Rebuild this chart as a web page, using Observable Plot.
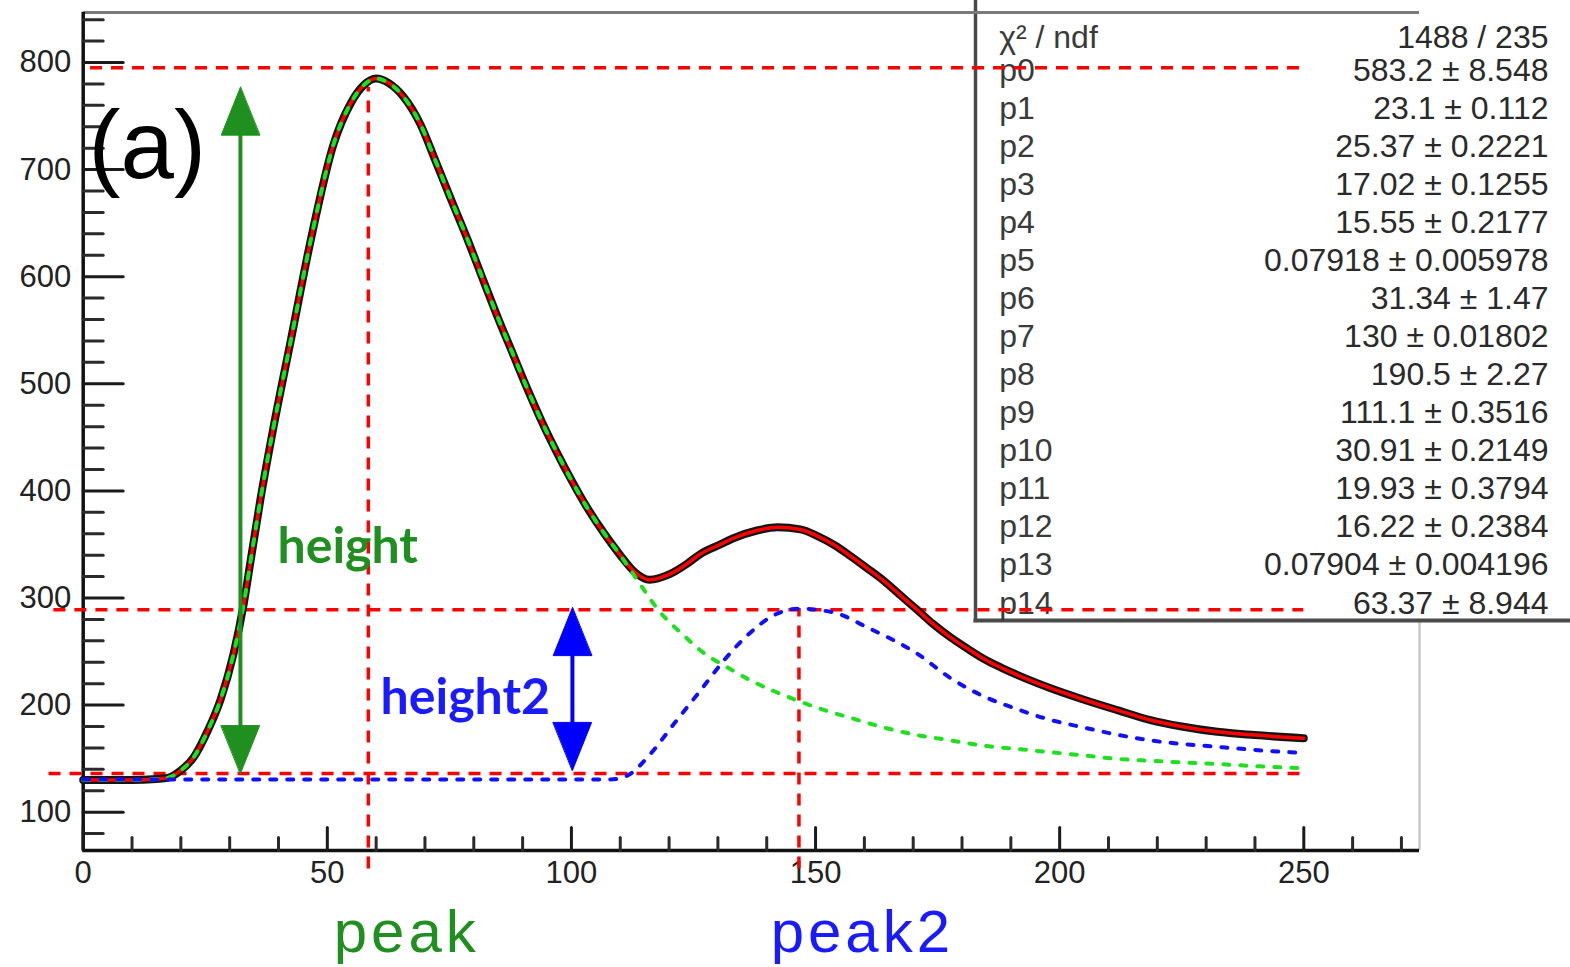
<!DOCTYPE html>
<html><head><meta charset="utf-8">
<script src="https://cdn.jsdelivr.net/npm/d3@7"></script>
<script src="https://cdn.jsdelivr.net/npm/@observablehq/plot@0.6"></script>
<style>html,body{margin:0;padding:0;background:#fff;} #chart{width:1570px;height:967px;overflow:hidden}</style>
</head><body><div id="chart"></div>
<script>
// ---------- data ----------
const totalX = [0,5,10,15,17.3,20,22.6,25.5,28.2,30.8,32.9,34.3,36.3,39,42.5,46.6,51.3,54.8,57.5,60,62.5,65.6,69.1,72,75,78.7,82,85,88,91,94,97,100,103,106.6,110,113,116,120,123.7,126.4,130.5,133.3,138,142.2,146.9,150.3,154,157.2,160.5,164,167.5,170.8,174,177.7,181,184.5,188,191.4,198,205,212,218.6,225,232.3,240,250];
const totalY = [130,130,130,131,132,139,151,176,206,248,295,335,392,460,540,634,724,762,779,785,781,768,742,710,676,635,596,561,528,495,464,436,410,386,361,340,324,317,322,332,341,350,356,363,366,364,358,349,339,328,316,302,289,276,263,253,243,235,228,216,205,195,186,180,175,172,169];

const greenX = [0,5,10,15,17.3,20,22.6,25.5,28.2,30.8,32.9,34.3,36.3,39,42.5,46.6,51.3,54.8,57.5,60,62.5,65.6,69.1,72,75,78.7,82,85,88,91,94,97,100,103,106.6,110,113,118.3,123,127,132,136.7,142,147,152,157.2,164,170.8,177.7,184.4,191.4,198,204.9,211,218.6,225,232.3,240,250];
const greenY = [130,130,130,131,132,139,151,176,206,248,295,335,392,460,540,634,724,762,779,785,781,768,742,710,676,635,596,561,528,495,464,436,410,386,361,340,320,286,265,249,235,223,212,203,195,188,179,172,167,162,159,156,153,150,148,146.5,145,143,141];

const blueX = [0,50,108,111.4,116.2,121,126.4,131.2,136,142.2,146.5,153.7,160.6,170.8,177.7,184.5,191.4,196.7,204.9,218.6,232.3,247.3,250];
const blueY = [130.5,130.5,130.5,134,154.5,182.5,213.5,241.5,265,285.5,290,286.5,272.5,248,225,208,196,188,179,167,161,156,155.5];

// reference lines (values)
const hRuleY  = [136, 289, 795];
const hRuleX1 = [-7, -6, 1.5];
const hRuleX2 = [250, 250, 250];
const vRuleX  = [58.4, 146.6];
const vRuleY1 = [47, 47];
const vRuleY2 = [777, 290];

// arrows (height, height2)
const arrowX    = [32.2, 100.2];
const arrowLow  = [136, 139];
const arrowHigh = [777, 291];
const arrowColor = ["#1f8f1f", "#0000ff"];

// axes
const majorY = [100,200,300,400,500,600,700,800];
const minorY = [80,120,140,160,180,220,240,260,280,320,340,360,380,420,440,460,480,520,540,560,580,620,640,660,680,720,740,760,780,820,840];
const majorX = [0,50,100,150,200,250];
const minorX = [10,20,30,40,60,70,80,90,110,120,130,140,160,170,180,190,210,220,230,240,260,270];
const xDomain = [0, 273.7];
const yDomain = [64.2, 846.7];

// stats box
const statChiLabel = "χ² / ndf";
const statChiValue = "1488 / 235";
const statLabels = ["p0","p1","p2","p3","p4","p5","p6","p7","p8","p9","p10","p11","p12","p13","p14"];
const statValues = ["583.2 ± 8.548","23.1 ± 0.112","25.37 ± 0.2221","17.02 ± 0.1255","15.55 ± 0.2177","0.07918 ± 0.005978","31.34 ± 1.47","130 ± 0.01802","190.5 ± 2.27","111.1 ± 0.3516","30.91 ± 0.2149","19.93 ± 0.3794","16.22 ± 0.2384","0.07904 ± 0.004196","63.37 ± 8.944"];

// ---------- build ----------
const zip = (xs, ys) => xs.map((x, i) => ({x, y: ys[i]}));
const total = zip(totalX, totalY);
const green = zip(greenX, greenY);
const blue = zip(blueX, blueY);
const hRules = hRuleY.map((y, i) => ({y, x1: hRuleX1[i], x2: hRuleX2[i]}));
const vRules = vRuleX.map((x, i) => ({x, y1: vRuleY1[i], y2: vRuleY2[i]}));

const tickShape = {draw(ctx, l) { ctx.moveTo(0, 0); ctx.lineTo(0, -l); }};
const headShape = {draw(ctx, l) { const w = l * 0.4; ctx.moveTo(0, 0); ctx.lineTo(-w, l); ctx.lineTo(w, l); ctx.closePath(); }};

const SANS = "Liberation Sans, Arial, Helvetica, sans-serif";
const boxInset = {insetLeft: 892.3, insetBottom: 230, insetRight: -170, insetTop: -20};

const arrowMarks = arrowX.flatMap((x, i) => [
  Plot.ruleX([x], {y1: arrowLow[i] + 5, y2: arrowHigh[i] - 5, stroke: arrowColor[i], strokeWidth: 4}),
  Plot.vector([x], {x: d => d, y: () => arrowHigh[i], length: 48, rotate: 0, anchor: "start", shape: headShape, fill: arrowColor[i], stroke: arrowColor[i], strokeWidth: 1}),
  Plot.vector([x], {x: d => d, y: () => arrowLow[i], length: 48, rotate: 180, anchor: "start", shape: headShape, fill: arrowColor[i], stroke: arrowColor[i], strokeWidth: 1})
]);

const svg = Plot.plot({
  width: 1570,
  height: 967,
  marginLeft: 82.7,
  marginRight: 151,
  marginTop: 12,
  marginBottom: 117,
  x: {domain: xDomain, axis: null},
  y: {domain: yDomain, axis: null},
  style: {fontFamily: SANS, background: "white", overflow: "visible"},
  marks: [
    // frame right (light)
    Plot.ruleX([xDomain[1]], {stroke: "#c8c8c8", strokeWidth: 2.5}),
    // stats box
    Plot.frame({fill: "white", stroke: "none", ...boxInset}),
    Plot.frame({anchor: "left", stroke: "#4a4a4a", strokeWidth: 3.5, ...boxInset}),
    Plot.frame({anchor: "bottom", stroke: "#4a4a4a", strokeWidth: 4, ...boxInset}),
    // frame top
    Plot.ruleY([yDomain[1]], {stroke: "#7a7a7a", strokeWidth: 3}),
    // axes
    Plot.ruleX([xDomain[0]], {stroke: "#111", strokeWidth: 3.5}),
    Plot.ruleY([yDomain[0]], {stroke: "#111", strokeWidth: 3.5}),
    Plot.vector(majorY, {x: () => xDomain[0], y: d => d, length: 40, rotate: 90, anchor: "start", shape: tickShape, stroke: "#1a1a1a", strokeWidth: 3}),
    Plot.vector(minorY, {x: () => xDomain[0], y: d => d, length: 20, rotate: 90, anchor: "start", shape: tickShape, stroke: "#2a2a2a", strokeWidth: 3}),
    Plot.vector(majorX, {x: d => d, y: () => yDomain[0], length: 23, rotate: 0, anchor: "start", shape: tickShape, stroke: "#1a1a1a", strokeWidth: 3}),
    Plot.vector(minorX, {x: d => d, y: () => yDomain[0], length: 13, rotate: 0, anchor: "start", shape: tickShape, stroke: "#2a2a2a", strokeWidth: 3}),
    Plot.text(majorY, {x: () => xDomain[0], y: d => d, text: d => String(d), dx: -12, textAnchor: "end", lineAnchor: "middle", fontSize: 31, fill: "#222"}),
    Plot.text(majorX, {x: d => d, y: () => yDomain[0], text: d => String(d), dy: 23, textAnchor: "middle", lineAnchor: "middle", fontSize: 31, fill: "#222"}),
    // stats text
    Plot.text([statChiLabel], {frameAnchor: "top-left", dx: 916, dy: 35, textAnchor: "start", lineAnchor: "bottom", fontSize: 32, fill: "#3a3a3a"}),
    Plot.text([statChiValue], {frameAnchor: "top-right", dx: 129, dy: 35, textAnchor: "end", lineAnchor: "bottom", fontSize: 32, fill: "#2a2a2a"}),
    Plot.text([statLabels.join("\n")], {frameAnchor: "top-left", dx: 916, dy: 41, textAnchor: "start", lineAnchor: "top", lineHeight: 38.07 / 32, fontSize: 32, fill: "#3a3a3a"}),
    Plot.text([statValues.join("\n")], {frameAnchor: "top-right", dx: 129, dy: 41, textAnchor: "end", lineAnchor: "top", lineHeight: 38.07 / 32, fontSize: 32, fill: "#2a2a2a"}),
    // red dashed guide lines
    Plot.ruleY(hRules, {y: "y", x1: "x1", x2: "x2", stroke: "#ff0000", strokeWidth: 3.5, strokeDasharray: "12,9"}),
    Plot.ruleX(vRules, {x: "x", y1: "y1", y2: "y2", stroke: "#ff0000", strokeWidth: 3.5, strokeDasharray: "12,9"}),
    // data + fit + components
    Plot.line(total, {x: "x", y: "y", stroke: "#151515", strokeWidth: 8, curve: "monotone-x"}),
    Plot.line(total, {x: "x", y: "y", stroke: "#ff0000", strokeWidth: 3.5, curve: "monotone-x"}),
    Plot.line(green, {x: "x", y: "y", stroke: "#1fe01f", strokeWidth: 4, strokeDasharray: "6,11", curve: "monotone-x"}),
    Plot.line(blue, {x: "x", y: "y", stroke: "#1010ff", strokeWidth: 4, strokeDasharray: "6,11", curve: "monotone-x"}),
    // arrows
    ...arrowMarks,
    // annotations
    Plot.text(["(a)"], {x: () => 1.1, y: () => 691.7, textAnchor: "start", lineAnchor: "bottom", fontSize: 96, fill: "#000"}),
    Plot.text(["height"], {x: () => 39.8, y: () => 333, textAnchor: "start", lineAnchor: "bottom", fontSize: 50, fontWeight: "bold", fontFamily: "Lato, Open Sans, sans-serif", fill: "#1f8f1f"}),
    Plot.text(["height2"], {x: () => 60.9, y: () => 192, textAnchor: "start", lineAnchor: "bottom", fontSize: 50, fontWeight: "bold", fontFamily: "Lato, Open Sans, sans-serif", fill: "#1a1aff"}),
    Plot.text(["peak"], {x: () => 51.3, y: () => -30.5, textAnchor: "start", lineAnchor: "bottom", fontSize: 60, fill: "#1f8f1f"}),
    Plot.text(["peak2"], {x: () => 140.8, y: () => -30.5, textAnchor: "start", lineAnchor: "bottom", fontSize: 60, fill: "#1a1aff"})
  ]
});
svg.querySelectorAll("text").forEach(t => {
  const s = t.textContent;
  if (s === "peak" || s === "peak2") t.setAttribute("letter-spacing", "4px");
});
document.getElementById("chart").appendChild(svg);
</script></body></html>
